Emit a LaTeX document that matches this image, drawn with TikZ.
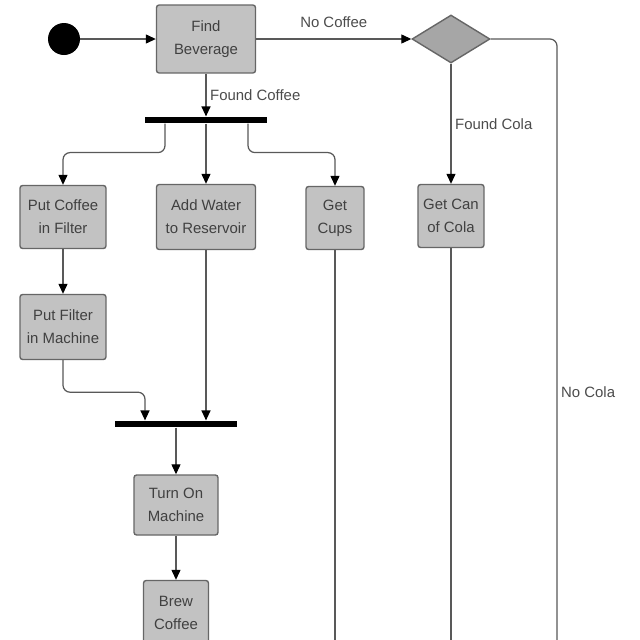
\documentclass[tikz,border=0pt]{standalone}
\usepackage{fontspec}
\setmainfont{Liberation Sans}
\usetikzlibrary{shapes.geometric, arrows.meta, positioning}
\tikzset{
  act/.style = {rectangle, rounded corners=1.5pt, draw=black!60, fill=black!24,
    text=black!75, align=center, font=\fontsize{8.5}{13}\selectfont,
    minimum height=1.26cm, inner sep=2pt, line width=0.8pt},
  ini/.style = {circle, fill=black, minimum size=0.64cm, inner sep=0pt},
  bar/.style = {rectangle, fill=black, minimum height=0.13cm, inner sep=0pt},
  dec/.style = {diamond, draw=black!60, fill=black!35, minimum width=1.56cm,
    minimum height=0.96cm, inner sep=0pt, line width=0.8pt},
  lig/.style = {draw=black!65, line width=0.7pt, rounded corners=4pt},
  seta/.style = {lig, -{Triangle[length=2mm, width=1.8mm, color=black]}},
  lbl/.style = {font=\fontsize{8.5}{10}\selectfont, text=black!70, inner sep=2pt}
}
\begin{document}
\begin{tikzpicture}[x=0.02cm, y=-0.02cm]
  \clip (0,0) rectangle (640,640);
  \fill[white] (0,0) rectangle (640,640);
  \node [ini] (start) at (64,39) {};
  \node [act, minimum width=1.98cm, minimum height=1.36cm] (find) at (206,39) {Find\\Beverage};
  \node [dec] (choice) at (451,39) {};
  \node [bar, minimum width=2.46cm] (fork) at (206,120) {};
  \node [act, minimum width=1.72cm] (filter) at (63,217) {Put Coffee\\in Filter};
  \node [act, minimum width=1.98cm, minimum height=1.3cm] (water) at (206,217) {Add Water\\to Reservoir};
  \node [act, minimum width=1.16cm] (cups) at (335,218) {Get\\Cups};
  \node [act, minimum width=1.32cm] (cola) at (451,216) {Get Can\\of Cola};
  \node [act, minimum width=1.72cm, minimum height=1.3cm] (machine) at (63,327) {Put Filter\\in Machine};
  \node [bar, minimum width=2.44cm] (join) at (176,424) {};
  \node [act, minimum width=1.68cm, minimum height=1.2cm] (turnon) at (176,505) {Turn On\\Machine};
  \node [act, minimum width=1.3cm, minimum height=1.3cm] (brew) at (176,613) {Brew\\Coffee};
  \coordinate (bottom) at (320,648);
  \coordinate (nocola) at (557,648);

  \draw [seta] (start) -- (find);
  \draw [seta] (find) -- node [lbl, above, yshift=4pt] {No Coffee} (choice);
  \draw [seta] (find) -- node [lbl, right] {Found Coffee} (fork);
  \draw [seta] (choice) -- node [lbl, right] {Found Cola} (cola);
  \draw [lig] (choice.east) -| node [lbl, right, pos=0.79] {No Cola} (nocola);
  \draw [seta] ([xshift=-0.82cm]fork.south) -- ++(0,29) -| (filter.north);
  \draw [seta] (fork) -- (water);
  \draw [seta] ([xshift=0.84cm]fork.south) -- ++(0,29) -| (cups.north);
  \draw [seta] (filter) -- (machine);
  \draw [seta] (machine.south) -- ++(0,32) -| ([xshift=-0.62cm]join.north);
  \draw [seta] (water.south) -- (water.south |- join.north);
  \draw [seta] (join) -- (turnon);
  \draw [seta] (turnon) -- (brew);
  \draw [lig] (cups.south) -- (cups.south |- bottom);
  \draw [lig] (cola.south) -- (cola.south |- bottom);
\end{tikzpicture}
\end{document}
